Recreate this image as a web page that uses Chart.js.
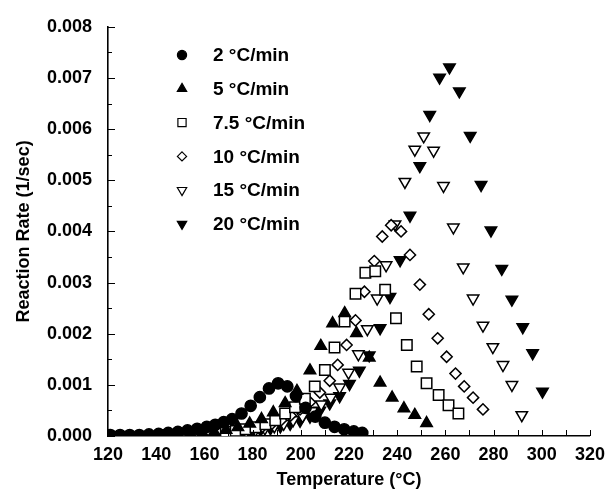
<!DOCTYPE html>
<html>
<head>
<meta charset="utf-8">
<script src="https://cdn.jsdelivr.net/npm/chart.js@4"></script>
<style>
  html, body { margin: 0; padding: 0; background: #fff; }
  #wrap { width: 613px; height: 493px; }
</style>
</head>
<body>
<div id="wrap"><canvas id="c" width="613" height="493"></canvas></div>
<script>
// ---- data (Temperature in °C, Reaction rate in 1/sec) ----
const seriesLabels = ["2 °C/min", "5 °C/min", "7.5 °C/min", "10 °C/min", "15 °C/min", "20 °C/min"];

const temp2 = [121,125,129,133,137,141,145,149,153,157,161,164.5,168,171.5,175.4,179.2,183,186.8,190.6,194.4,198,202,206,210,214,218,222,225.5];
const rate2 = [0.00002,0.00002,0.00002,0.00002,0.00003,0.00004,0.00006,0.00008,0.00011,0.00014,0.00018,0.00022,0.00027,0.00033,0.00044,0.00059,0.00076,0.00093,0.00103,0.00097,0.00078,0.00055,0.00038,0.00026,0.00018,0.00013,0.00009,0.00006];

const temp5 = [149.4,154.3,159.2,164.1,169,173.9,178.8,183.7,188.6,193.5,198.4,203.8,208.3,213.2,218.2,223.1,228.4,232.9,237.9,242.8,247.3,252.2];
const rate5 = [0.00002,0.00004,0.00006,0.00008,0.00012,0.00017,0.00024,0.00033,0.00046,0.00064,0.00088,0.00128,0.00176,0.00220,0.00240,0.00201,0.00153,0.00104,0.00075,0.00054,0.00041,0.00025];

const temp75 = [144.3,148.4,152.5,156.6,160.7,164.8,168.9,173,177.1,181.2,185.3,189.4,193.5,197.6,201.7,205.8,210,214,218.2,222.7,226.8,230.9,235,239.5,244,248.1,252.2,257.2,261.3,265.4];
const rate75 = [0.00002,0.00002,0.00003,0.00004,0.00005,0.00006,0.00008,0.00010,0.00013,0.00017,0.00023,0.00031,0.00044,0.00056,0.00073,0.00097,0.00129,0.00173,0.00224,0.00278,0.00319,0.00322,0.00286,0.00230,0.00178,0.00136,0.00103,0.00080,0.00060,0.00044];

const temp10 = [152.9,156.8,160.7,164.6,168.5,172.4,176.3,180.2,184.1,188,191.9,195.8,199.7,203.8,207.9,212,215.3,219,222.7,226.4,230.5,233.8,237.5,241.6,245.3,249.4,253.1,256.8,260.5,264.2,267.8,271.5,275.6];
const rate10 = [0.00002,0.00003,0.00004,0.00005,0.00006,0.00008,0.00011,0.00014,0.00018,0.00024,0.00031,0.00040,0.00052,0.00066,0.00085,0.00108,0.00139,0.00178,0.00226,0.00282,0.00342,0.00390,0.00412,0.00400,0.00354,0.00296,0.00238,0.00191,0.00155,0.00122,0.00097,0.00075,0.00052];

const temp15 = [150,153.9,157.8,161.7,165.6,169.5,173.4,177.3,181.2,185.1,189,192.9,196.8,200.7,204.6,208.5,212.4,216.1,219.8,223.9,227.6,231.7,235.4,239.1,243.2,247.3,251,255.1,259.2,263.3,267.4,271.5,275.6,279.7,283.9,287.6,291.7];
const rate15 = [0.00002,0.00002,0.00003,0.00004,0.00005,0.00006,0.00007,0.00009,0.00012,0.00015,0.00019,0.00024,0.00031,0.00039,0.00049,0.00062,0.00075,0.00095,0.00124,0.00160,0.00209,0.00269,0.00334,0.00414,0.00497,0.00560,0.00586,0.00558,0.00489,0.00408,0.00330,0.00269,0.00216,0.00174,0.00139,0.00100,0.00041];

const temp20 = [154.6,158.7,162.8,166.9,171,175.1,179.2,183.3,187.4,191.5,195.6,199.7,203.8,207.9,212,216.1,220.2,224.3,228.4,232.9,237,241.2,245.3,249.4,253.5,257.6,261.7,265.8,270.3,274.8,278.9,283.4,287.6,292.1,296.2,300.3];
const rate20 = [0.00002,0.00003,0.00004,0.00005,0.00006,0.00007,0.00009,0.00012,0.00015,0.00019,0.00024,0.00030,0.00038,0.00050,0.00064,0.00078,0.00102,0.00128,0.00158,0.00211,0.00272,0.00344,0.00431,0.00528,0.00628,0.00701,0.00721,0.00674,0.00587,0.00491,0.00402,0.00327,0.00267,0.00213,0.00162,0.00087];

const xTickMin = 120, xTickMax = 320, xTickStep = 20;
const yTickMin = 0, yTickMax = 0.008, yTickStep = 0.001;

// ---- build ----
const FONT = '"Liberation Sans", Arial, Helvetica, sans-serif';
function pts(t, r) { return t.map((x, i) => ({ x: x, y: r[i] })); }

const styles = [
  { pointStyle: 'circle',   rotation: 0,   fill: '#000', radius: 5.6 },
  { pointStyle: 'triangle', rotation: 0,   fill: '#000', radius: 6.6 },
  { pointStyle: 'rect',     rotation: 0,   fill: '#fff', radius: 7.4 },
  { pointStyle: 'rectRot',  rotation: 0,   fill: '#fff', radius: 5.6 },
  { pointStyle: 'triangle', rotation: 180, fill: '#fff', radius: 6.6 },
  { pointStyle: 'triangle', rotation: 180, fill: '#000', radius: 6.6 }
];
const seriesT = [temp2, temp5, temp75, temp10, temp15, temp20];
const seriesR = [rate2, rate5, rate75, rate10, rate15, rate20];

const datasets = seriesLabels.map((lab, i) => ({
  label: lab,
  data: pts(seriesT[i], seriesR[i]),
  showLine: false,
  pointStyle: styles[i].pointStyle,
  rotation: styles[i].rotation,
  pointRadius: styles[i].radius,
  pointHoverRadius: styles[i].radius,
  pointBackgroundColor: styles[i].fill,
  pointBorderColor: '#000',
  pointBorderWidth: 1.5
}));

// inward tick marks drawn from the scales
const innerTicks = {
  id: 'innerTicks',
  afterDraw(chart) {
    const ctx = chart.ctx, xs = chart.scales.x, ys = chart.scales.y;
    const a = chart.chartArea;
    ctx.save();
    ctx.strokeStyle = '#000';
    ctx.lineWidth = 1;
    for (let v = xTickMin; v <= xTickMax; v += xTickStep / 2) {
      const px = Math.round(xs.getPixelForValue(v)) + 0.5;
      ctx.beginPath(); ctx.moveTo(px, a.bottom); ctx.lineTo(px, a.bottom - 6); ctx.stroke();
    }
    for (let k = 0; k <= 16; k++) {
      const v = k * yTickStep / 2;
      const py = Math.round(ys.getPixelForValue(v)) + 0.5;
      const len = (k % 2 === 0) ? 7 : 4;
      ctx.beginPath(); ctx.moveTo(a.left, py); ctx.lineTo(a.left + len, py); ctx.stroke();
    }
    ctx.restore();
  }
};

// legend drawn inside the plot
function drawMarker(ctx, st, x, y, r) {
  ctx.beginPath();
  if (st.pointStyle === 'circle') {
    ctx.arc(x, y, r, 0, Math.PI * 2);
  } else if (st.pointStyle === 'rect') {
    const s = r * Math.SQRT1_2;
    ctx.rect(x - s, y - s, 2 * s, 2 * s);
  } else if (st.pointStyle === 'rectRot') {
    ctx.moveTo(x, y - r); ctx.lineTo(x + r, y); ctx.lineTo(x, y + r); ctx.lineTo(x - r, y); ctx.closePath();
  } else {
    const dir = st.rotation === 180 ? 1 : -1;
    const w = r * Math.sqrt(3) / 2;
    ctx.moveTo(x, y + dir * r);
    ctx.lineTo(x + w, y - dir * r / 2);
    ctx.lineTo(x - w, y - dir * r / 2);
    ctx.closePath();
  }
  ctx.fillStyle = st.fill; ctx.fill();
  ctx.lineWidth = 1.2; ctx.strokeStyle = '#000'; ctx.stroke();
}
const innerLegend = {
  id: 'innerLegend',
  afterDraw(chart) {
    const ctx = chart.ctx;
    ctx.save();
    ctx.font = 'bold 19px ' + FONT;
    ctx.textBaseline = 'middle';
    const x0 = 182, tx = 213, y0 = 55, dy = 33.8;
    const lr = [4.6, 5.4, 5.8, 4.6, 5.4, 5.4];
    seriesLabels.forEach((lab, i) => {
      const y = y0 + i * dy;
      drawMarker(ctx, styles[i], x0, y, lr[i]);
      ctx.fillStyle = '#000';
      ctx.fillText(lab, tx, y + 1);
    });
    ctx.restore();
  }
};

new Chart(document.getElementById('c'), {
  type: 'scatter',
  data: { datasets: datasets },
  options: {
    responsive: false,
    animation: false,
    devicePixelRatio: 1,
    layout: { padding: { left: 0, right: 18, top: 22, bottom: 0 } },
    plugins: { legend: { display: false }, tooltip: { enabled: false } },
    scales: {
      x: {
        type: 'linear', min: xTickMin, max: xTickMax,
        ticks: { stepSize: xTickStep, color: '#000', padding: 8, font: { family: FONT, size: 18, weight: 'bold' } },
        grid: { display: false, drawTicks: false },
        border: { display: true, color: '#000', width: 1.6 },
        title: { display: true, text: 'Temperature (°C)', color: '#000', padding: { top: 0, bottom: 2 }, font: { family: FONT, size: 18, weight: 'bold' } },
        afterFit(s) { s.height = 57; }
      },
      y: {
        type: 'linear', min: yTickMin, max: yTickMax,
        ticks: { stepSize: yTickStep, color: '#000', padding: 16, font: { family: FONT, size: 18, weight: 'bold' },
                 callback: v => Number(v).toFixed(3) },
        grid: { display: false, drawTicks: false },
        border: { display: true, color: '#000', width: 1.6 },
        title: { display: true, text: 'Reaction Rate (1/sec)', color: '#000', padding: { top: 13, bottom: 0 }, font: { family: FONT, size: 18, weight: 'bold' } },
        afterFit(s) { s.width = 108; }
      }
    }
  },
  plugins: [innerTicks, innerLegend]
});
</script>
</body>
</html>
